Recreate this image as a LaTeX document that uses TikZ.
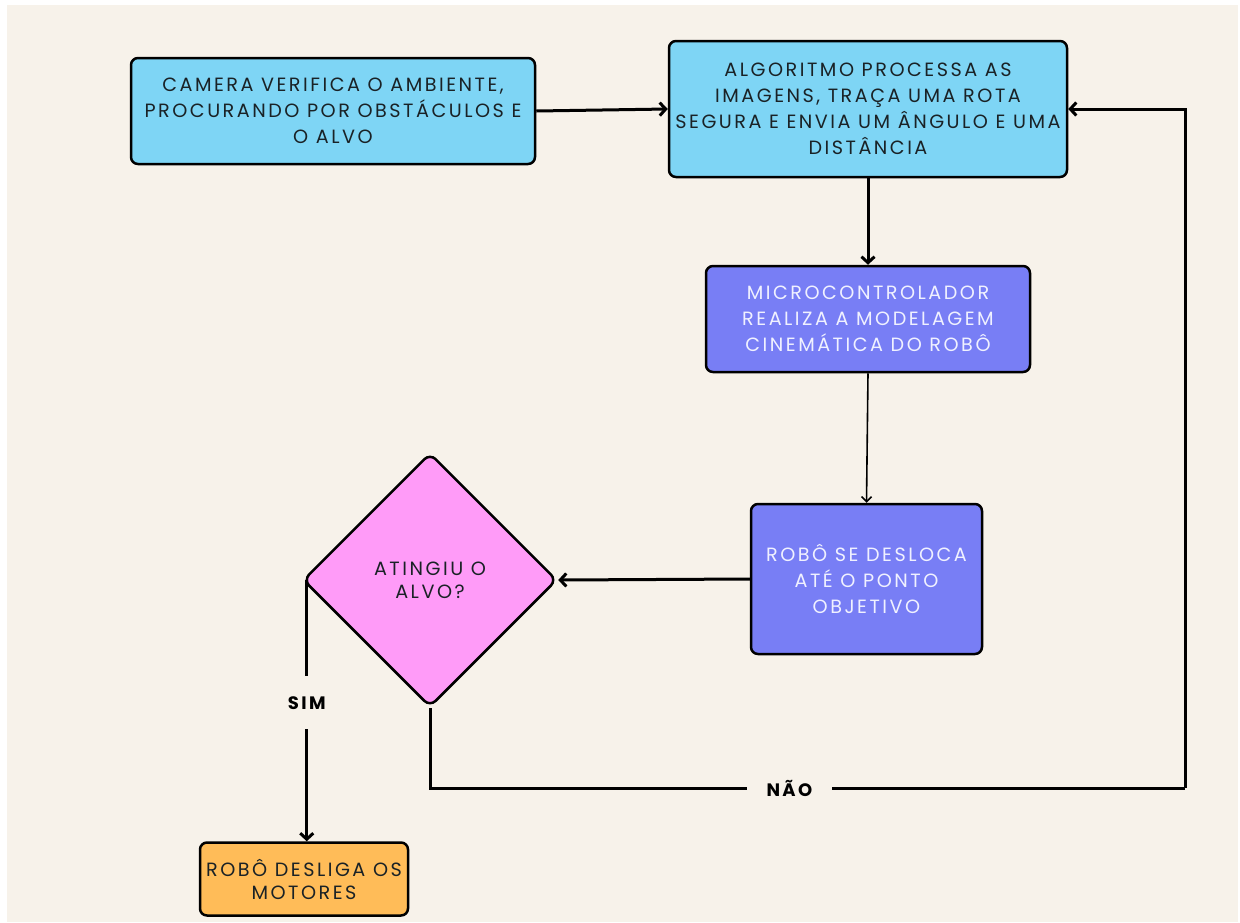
\documentclass[tikz,border=0pt]{standalone}
\usepackage{fontspec}
\setmainfont{Poppins}[LetterSpace=13]
\usetikzlibrary{shapes.geometric,arrows.meta}
\definecolor{cream}{HTML}{F7F2EA}
\definecolor{skyfill}{HTML}{7ED5F5}
\definecolor{violetfill}{HTML}{787EF5}
\definecolor{pinkfill}{HTML}{FF9BF8}
\definecolor{orangefill}{HTML}{FFBC58}
\definecolor{darktext}{HTML}{1A2226}
\definecolor{lighttext}{HTML}{F0F1FF}
\newcommand\boxfont{\fontsize{19.2}{26}\selectfont}
\newcommand\tightfont{\fontsize{19.2}{23}\selectfont}
\newcommand\tagfont{\fontsize{18}{20}\selectfont\bfseries}
\tikzset{
  stepbox/.style={draw=black, line width=2.5pt, rounded corners=7pt,
    align=center, inner sep=0pt, font=\boxfont},
  skybox/.style={stepbox, fill=skyfill, text=darktext},
  violetbox/.style={stepbox, fill=violetfill, text=lighttext},
  orangebox/.style={stepbox, fill=orangefill, text=darktext, font=\tightfont},
  decision/.style={diamond, aspect=1, draw=black, line width=2.5pt,
    rounded corners=8pt, fill=pinkfill, text=darktext, align=center,
    inner sep=0pt, minimum size=254pt, font=\tightfont},
  flow/.style={line width=3pt, -{Straight Barb[length=6pt,width=13pt]}},
  thinflow/.style={line width=1.6pt, -{Straight Barb[length=5pt,width=10pt]}},
  plainline/.style={line width=3pt},
  tag/.style={fill=cream, font=\tagfont, text=black, inner xsep=20pt, inner ysep=20pt}
}
\begin{document}
\begin{tikzpicture}[x=1pt, y=-1pt]
  % canvas
  \useasboundingbox (0,0) rectangle (1240,922);
  \fill[white] (0,0) rectangle (1240,922);
  \fill[cream] (7,5) rectangle (1238,922);

  % process steps
  \node[skybox, minimum width=404pt, minimum height=106pt] (cam) at (333,111)
    {CAMERA VERIFICA O AMBIENTE,\\PROCURANDO POR OBSTÁCULOS E\\O ALVO};
  \node[skybox, minimum width=398pt, minimum height=136pt] (alg) at (868,109)
    {ALGORITMO PROCESSA AS\\IMAGENS, TRAÇA UMA ROTA\\SEGURA E ENVIA UM ÂNGULO E UMA\\DISTÂNCIA};
  \node[violetbox, minimum width=324pt, minimum height=106pt] (mcu) at (868,319)
    {MICROCONTROLADOR\\REALIZA A MODELAGEM\\CINEMÁTICA DO ROBÔ};
  \node[violetbox, minimum width=231pt, minimum height=150pt] (move) at (866.5,579)
    {ROBÔ SE DESLOCA\\ATÉ O PONTO\\OBJETIVO};
  \node[decision] (goal) at (430,580) {ATINGIU O\\ALVO?};
  \node[orangebox, minimum width=208pt, minimum height=73pt] (off) at (304,879)
    {ROBÔ DESLIGA OS\\MOTORES};

  % branch points on the decision and the route of the "no" branch
  \coordinate (yesstart) at ([xshift=5pt]goal.west);
  \coordinate (nodown) at (430,788);
  \coordinate (noright) at (1185,788);

  % connectors
  \draw[flow] (cam.east) -- (alg.west);
  \draw[flow] (alg.south) -- (mcu.north);
  \draw[thinflow] (mcu.south) -- (move.north);
  \draw[flow] (move.west) -- (goal.east);
  \draw[flow] (yesstart) -- node[tag, pos=0.47] {SIM} (yesstart |- off.north);
  \draw[plainline] (goal.south) -- (nodown)
    -- node[tag, pos=0.476] {NÃO} (noright);
  \draw[flow] (noright) -- (noright |- alg.east) -- (alg.east);
\end{tikzpicture}
\end{document}
